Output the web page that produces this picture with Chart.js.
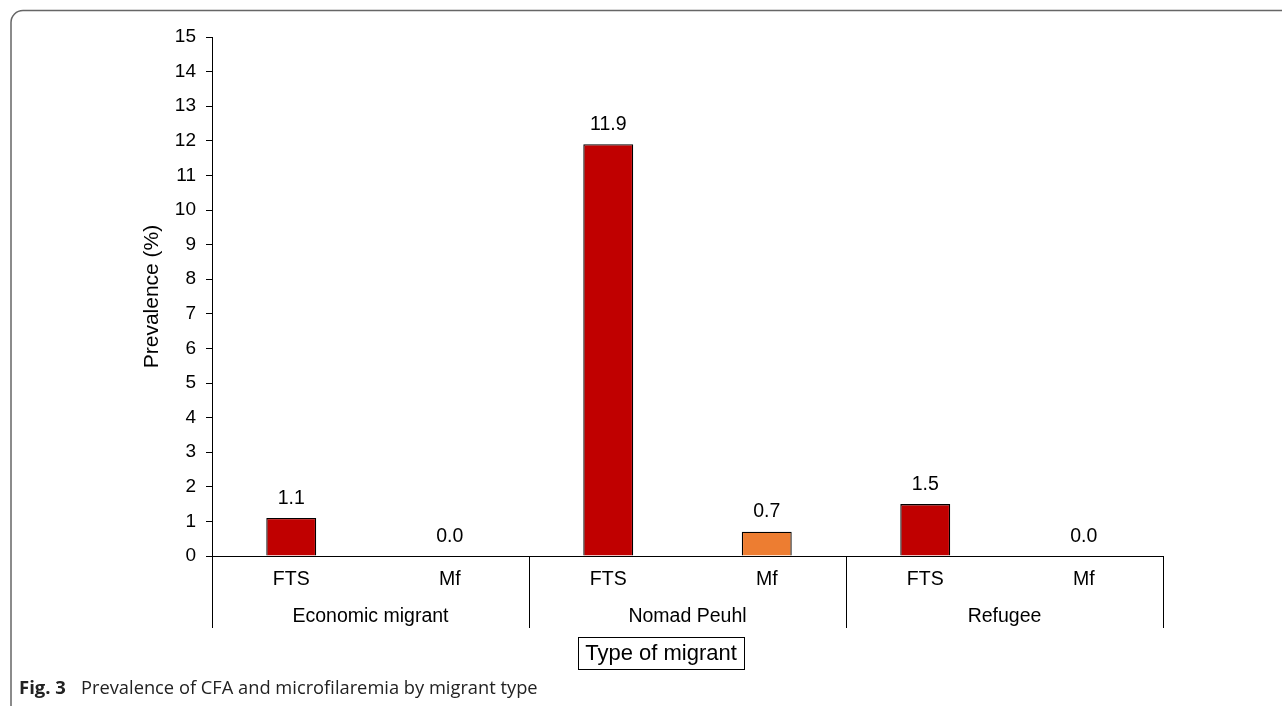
<!DOCTYPE html>
<html>
<head>
<meta charset="utf-8">
<script src="https://cdn.jsdelivr.net/npm/chart.js@4.4.1/dist/chart.umd.min.js"></script>
<style>
  html, body { margin: 0; padding: 0; background: #fff; }
  canvas { display: block; }
</style>
</head>
<body>
<canvas id="chart" width="1282" height="706"></canvas>
<script>
// data
var groups = ["Economic migrant", "Nomad Peuhl", "Refugee"];
var tests = ["FTS", "Mf"];
var categories = ["FTS", "Mf", "FTS", "Mf", "FTS", "Mf"];
var prevalence = [1.1, 0.0, 11.9, 0.7, 1.5, 0.0];
var yTicks = [0, 1, 2, 3, 4, 5, 6, 7, 8, 9, 10, 11, 12, 13, 14, 15];

var FONT = "'Liberation Sans', Arial, sans-serif";

// draws value labels, group row, axis caption box, figure frame and caption
var extrasPlugin = {
  id: "extras",
  afterDatasetsDraw: function(chart) {
    var ctx = chart.ctx;
    var meta = chart.getDatasetMeta(0);
    ctx.save();
    ctx.fillStyle = "#000";
    ctx.font = "19.5px " + FONT;
    ctx.textAlign = "center";
    ctx.textBaseline = "bottom";
    meta.data.forEach(function(bar, i) {
      ctx.fillText(prevalence[i].toFixed(1), bar.x, bar.y - 10);
    });
    ctx.restore();
  },
  afterDraw: function(chart) {
    var ctx = chart.ctx;
    var x = chart.scales.x;
    var bottom = chart.chartArea.bottom;
    ctx.save();

    // group separators and labels
    ctx.strokeStyle = "#000";
    ctx.lineWidth = 1;
    var perGroup = tests.length;
    for (var g = 0; g <= groups.length; g++) {
      var px;
      if (g === 0) px = x.left;
      else if (g === groups.length) px = x.right;
      else px = (x.getPixelForValue(g * perGroup - 1) + x.getPixelForValue(g * perGroup)) / 2;
      px = Math.round(px) + 0.5;
      ctx.beginPath();
      ctx.moveTo(px, bottom);
      ctx.lineTo(px, bottom + 72);
      ctx.stroke();
    }
    ctx.fillStyle = "#000";
    ctx.font = "19.5px " + FONT;
    ctx.textAlign = "center";
    ctx.textBaseline = "middle";
    groups.forEach(function(name, g) {
      var a = x.getPixelForValue(g * perGroup);
      var b = x.getPixelForValue(g * perGroup + perGroup - 1);
      ctx.fillText(name, (a + b) / 2, bottom + 61);
    });

    // x axis title in a box
    ctx.font = "22px " + FONT;
    var title = "Type of migrant";
    var cx = 661, cy = 653;
    var w = ctx.measureText(title).width + 14;
    ctx.strokeRect(Math.round(cx - w / 2) + 0.5, 637.5, Math.round(w), 32);
    ctx.fillText(title, cx, cy + 1);

    // figure frame with rounded top-left corner
    ctx.strokeStyle = "#666";
    ctx.lineWidth = 1.5;
    ctx.beginPath();
    ctx.moveTo(11, 706);
    ctx.lineTo(11, 23);
    ctx.arcTo(11, 10.5, 23, 10.5, 12);
    ctx.lineTo(1282, 10.5);
    ctx.stroke();

    // caption
    ctx.textAlign = "left";
    ctx.textBaseline = "alphabetic";
    ctx.fillStyle = "#222";
    ctx.font = "bold 18.5px 'Open Sans', sans-serif";
    ctx.fillText("Fig. 3", 19, 694);
    ctx.font = "18.3px 'Open Sans', sans-serif";
    ctx.fillText("Prevalence of CFA and microfilaremia by migrant type", 81, 694);
    ctx.restore();
  }
};

new Chart(document.getElementById("chart"), {
  type: "bar",
  data: {
    labels: categories,
    datasets: [{
      data: prevalence,
      backgroundColor: function(c) { return categories[c.dataIndex] === "FTS" ? "#C00000" : "#ED7D31"; },
      borderColor: "#000",
      borderWidth: 1.3,
      borderSkipped: "bottom",
      barPercentage: 0.315,
      categoryPercentage: 1
    }]
  },
  options: {
    responsive: false,
    animation: false,
    devicePixelRatio: 1,
    layout: { padding: { left: 130, top: 37, right: 119, bottom: 0 } },
    plugins: { legend: { display: false }, tooltip: { enabled: false } },
    scales: {
      x: {
        grid: { display: false, drawTicks: false },
        border: { display: true, color: "#000", width: 1 },
        ticks: { color: "#000", font: { family: FONT, size: 19.5 }, padding: 12, maxRotation: 0 },
        afterFit: function(s) { s.height = 150; s.paddingLeft = 0; s.paddingRight = 0; }
      },
      y: {
        min: 0,
        max: 15,
        afterBuildTicks: function(s) { s.ticks = yTicks.map(function(v) { return { value: v }; }); },
        grid: { drawOnChartArea: false, drawTicks: true, tickLength: 6, color: "#000" },
        border: { display: true, color: "#000", width: 1 },
        ticks: { color: "#000", font: { family: FONT, size: 19 }, padding: 10 },
        title: { display: true, text: "Prevalence (%)", color: "#000", font: { family: FONT, size: 21 }, padding: { top: 10, bottom: 0 } },
        afterFit: function(s) { s.width = 82; s.paddingTop = 0; s.paddingBottom = 0; }
      }
    }
  },
  plugins: [extrasPlugin]
});
</script>
</body>
</html>
